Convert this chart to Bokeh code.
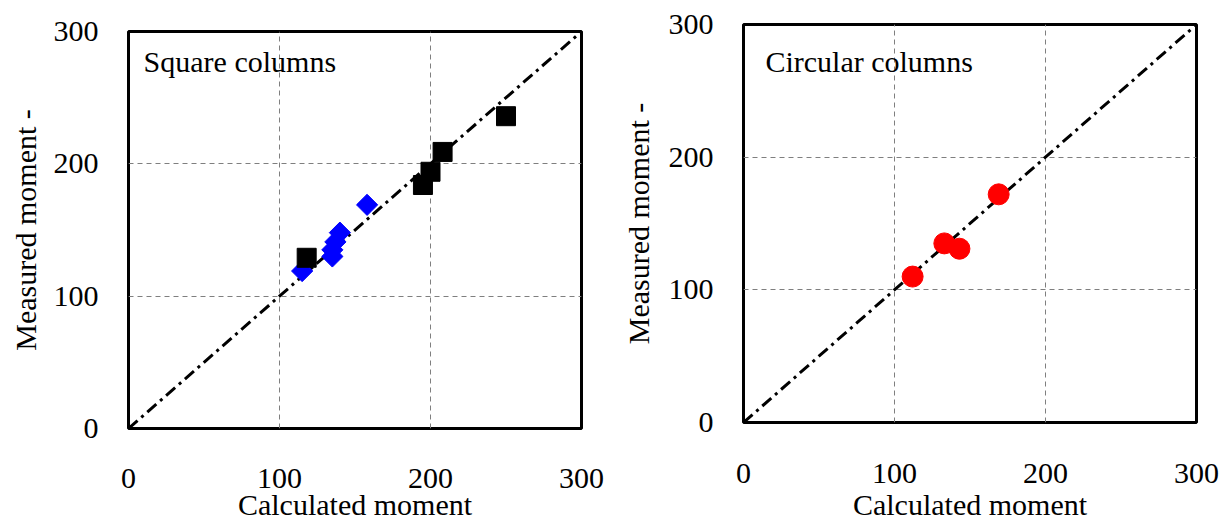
import numpy as np
from bokeh.plotting import figure
from bokeh.models import Range1d, FixedTicker, Label
from bokeh.embed import file_html
from bokeh.resources import INLINE

# ---- data ----
ticks = [0, 100, 200, 300]
diag = [0, 300]

sq_black_x = [118, 195, 200, 208, 250]
sq_black_y = [129, 184, 194, 209, 236]
sq_blue_x = [115, 135, 135, 137, 140, 158]
sq_blue_y = [119, 130, 135, 141, 148, 169]

circ_x = [112, 133, 143, 169]
circ_y = [110, 135, 131, 172]

FONT = "Liberation Serif"
FS = "30px"


def make_fig(fw, fh, bl, br, bt, ylab_standoff, xtick_standoff, xlab_standoff):
    p = figure(frame_width=fw, frame_height=fh, output_backend="svg", toolbar_location=None,
               x_range=Range1d(0, 300), y_range=Range1d(0, 300),
               min_border_left=bl, min_border_right=br, min_border_top=bt, min_border_bottom=40)
    p.background_fill_color = "white"
    p.border_fill_color = "white"
    p.outline_line_color = "black"
    p.outline_line_width = 3
    for ax in (p.xaxis[0], p.yaxis[0]):
        ax.ticker = FixedTicker(ticks=ticks)
        ax.axis_line_color = None
        ax.major_tick_line_color = None
        ax.minor_tick_line_color = None
        ax.major_label_text_font = FONT
        ax.major_label_text_font_size = FS
        ax.major_label_text_color = "black"
        ax.axis_label_text_font = FONT
        ax.axis_label_text_font_size = FS
        ax.axis_label_text_font_style = "normal"
        ax.axis_label_text_color = "black"
    p.xaxis.axis_label = "Calculated moment"
    p.yaxis.axis_label = "Measured moment -"
    p.xaxis.major_label_standoff = xtick_standoff
    p.xaxis.axis_label_standoff = xlab_standoff
    p.yaxis.major_label_standoff = 24
    p.yaxis.axis_label_standoff = ylab_standoff
    for g in (p.xgrid[0], p.ygrid[0]):
        g.grid_line_color = "#7f7f7f"
        g.grid_line_width = 1
        g.grid_line_dash = "5 4"
    p.line(diag, diag, line_color="black", line_width=3, line_dash="12 5 3 5")
    return p


p1 = make_fig(453, 397, 128, 31, 31, 9, 34, -3)
p1.scatter(sq_blue_x, sq_blue_y, marker="square", angle=np.pi / 4, size=15,
           fill_color="#0000ff", line_color="#0000ff")
p1.scatter(sq_black_x, sq_black_y, marker="square", size=19,
           fill_color="black", line_color="black")
p1.add_layout(Label(x=10, y=277.5, text="Square columns", text_font=FONT,
                    text_font_size=FS, text_color="black", text_baseline="alphabetic"))

p2 = make_fig(453, 398, 131, 28, 24, 11, 35, 2)
p2.scatter(circ_x, circ_y, marker="circle", size=21,
           fill_color="#ff0000", line_color="#ff0000")
p2.add_layout(Label(x=14.5, y=272, text="Circular columns", text_font=FONT,
                    text_font_size=FS, text_color="black", text_baseline="alphabetic"))

template = """
{% block preamble %}
<style>
html, body { overflow: hidden !important; margin: 0 !important; }
body { display: flex !important; flex-direction: row !important; align-items: flex-start !important; }
</style>
{% endblock %}
{% block postamble %}
<style>
html, body { overflow: hidden !important; margin: 0 !important; }
body { display: flex !important; flex-direction: row !important; align-items: flex-start !important; }
</style>
{% endblock %}
"""

open("out.html", "w").write(file_html([p1, p2], INLINE, template=template))
